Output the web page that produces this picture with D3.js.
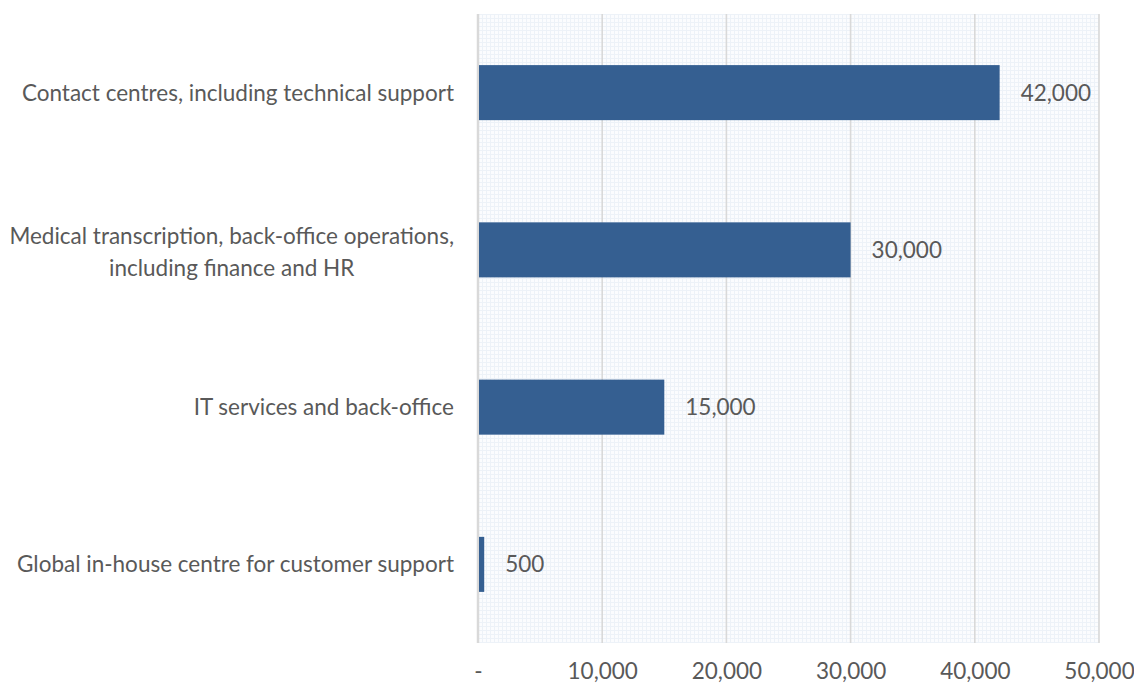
<!DOCTYPE html>
<html>
<head>
<meta charset="utf-8">
<script src="https://cdn.jsdelivr.net/npm/d3@7"></script>
<style>
  html, body { margin: 0; padding: 0; background: #fff; }
  svg { display: block; }
  text { font-family: Lato, "Open Sans", sans-serif; fill: #595959; }
</style>
</head>
<body>
<svg id="chart" width="1134" height="684"></svg>
<script>
// Employment by segment
const categories = [
  ["Contact centres, including technical support"],
  ["Medical transcription, back-office operations,", "including finance and HR"],
  ["IT services and back-office"],
  ["Global in-house centre for customer support"]
];
const values = [42000, 30000, 15000, 500];
const tickValues = [0, 10000, 20000, 30000, 40000, 50000];
const tickLabels = ["-", "10,000", "20,000", "30,000", "40,000", "50,000"];

const svg = d3.select("#chart");
const margin = { left: 478, right: 35, top: 14, bottom: 41 };
const W = 1134, H = 684;
const plotW = W - margin.left - margin.right;
const plotH = H - margin.top - margin.bottom;
const FS = 22.5;

const x = d3.scaleLinear().domain([0, 50000]).range([0, plotW]);
const y = d3.scaleBand().domain(d3.range(categories.length)).range([0, plotH]).paddingInner(0.65).paddingOuter(0.325);

// fine mesh background pattern
const defs = svg.append("defs");
const pat = defs.append("pattern").attr("id", "mesh").attr("patternUnits", "userSpaceOnUse")
  .attr("width", 4).attr("height", 4);
pat.append("rect").attr("width", 4).attr("height", 4).attr("fill", "#fbfcfe");
pat.append("rect").attr("x", 0).attr("y", 0).attr("width", 4).attr("height", 1).attr("fill", "#edf2f8");
pat.append("rect").attr("x", 0).attr("y", 0).attr("width", 1).attr("height", 4).attr("fill", "#edf2f8");

const g = svg.append("g").attr("transform", `translate(${margin.left},${margin.top})`);

g.append("rect").attr("width", plotW).attr("height", plotH).attr("fill", "url(#mesh)");

// vertical gridlines
g.selectAll("line.grid").data(tickValues).join("line")
  .attr("class", "grid")
  .attr("x1", d => x(d)).attr("x2", d => x(d))
  .attr("y1", 0).attr("y2", plotH)
  .attr("stroke", "#d9d9d9").attr("stroke-width", d => d === 0 ? 2.5 : 1.6);

// bars
g.selectAll("rect.bar").data(values).join("rect")
  .attr("class", "bar")
  .attr("x", x(0) + 1)
  .attr("y", (d, i) => y(i))
  .attr("width", d => x(d) - x(0) - 1)
  .attr("height", y.bandwidth())
  .attr("fill", "#355f91");

// value labels
g.selectAll("text.val").data(values).join("text")
  .attr("class", "val")
  .attr("x", d => x(d) + 21)
  .attr("y", (d, i) => y(i) + y.bandwidth() / 2)
  .attr("dy", "0.35em")
  .attr("font-size", FS)
  .text(d => d3.format(",")(d));

// x axis tick labels
const xAxis = d3.axisBottom(x).tickValues(tickValues).tickFormat((d, i) => tickLabels[i]).tickSize(0).tickPadding(20);
const ax = g.append("g").attr("transform", `translate(0,${plotH})`).call(xAxis);
ax.select(".domain").remove();
ax.selectAll("text").attr("font-size", FS).attr("fill", "#595959").style("font-family", "Lato, 'Open Sans', sans-serif");

// category labels (multi-line blocks centred per line, right-aligned as a block)
categories.forEach((lines, i) => {
  const cy = y(i) + y.bandwidth() / 2 + (lines.length > 1 ? 2 : 0);
  const lh = 32;
  const t = g.append("text").attr("font-size", FS).attr("text-anchor", "middle");
  lines.forEach((ln, j) => {
    t.append("tspan").attr("x", 0).attr("y", cy + (j - (lines.length - 1) / 2) * lh).attr("dy", "0.35em").text(ln);
  });
  const bb = t.node().getBBox();
  t.attr("transform", `translate(${-24 - (bb.x + bb.width)},0)`);
});
</script>
</body>
</html>
